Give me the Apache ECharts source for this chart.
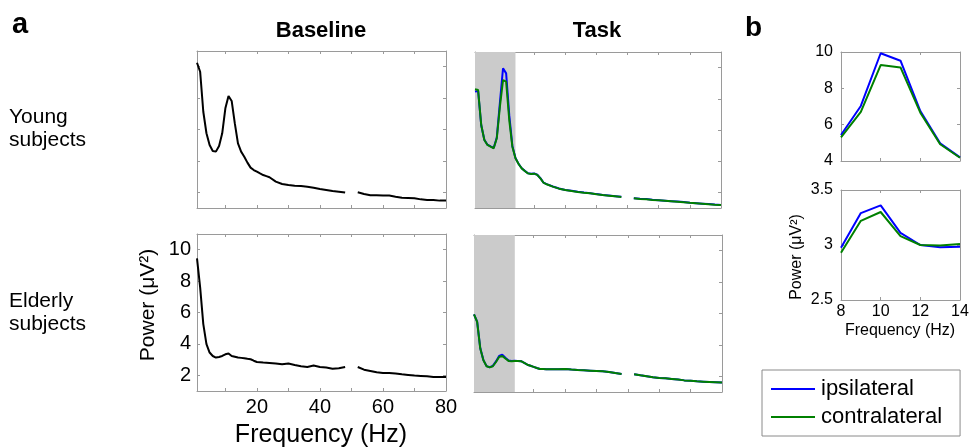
<!DOCTYPE html>
<html>
<head>
<meta charset="utf-8">
<script src="https://cdn.jsdelivr.net/npm/echarts@6/dist/echarts.min.js"></script>
<style>
  html, body { margin: 0; padding: 0; background: #fff; }
  #chart { width: 970px; height: 447px; }
</style>
</head>
<body>
<div id="chart"></div>
<script>
// frequency grid (Hz), 50 Hz removed (line noise)
const freqs = [1, 2, 3, 4, 5, 6, 7, 8, 9, 10, 11, 12, 13, 14, 15, 16, 17, 18, 19, 20, 21, 22, 23, 24,
  26, 28, 30, 32, 34, 36, 38, 40, 42, 44, 46, 48, 50, 52, 54, 56, 58, 60, 62, 64, 66, 68, 70, 72, 74, 76, 78, 80];

const youngBaseline = [10.25, 9.68, 7.13, 5.76, 5.01, 4.63, 4.59, 4.95, 5.76, 7.35, 8.13, 7.82, 6.39, 5.12, 4.59, 4.27, 3.89, 3.57, 3.42, 3.31, 3.20, 3.10, 3.03, 2.96,
  2.68, 2.53, 2.46, 2.42, 2.40, 2.36, 2.29, 2.21, 2.15, 2.08, 2.04, 1.98, null, 2.00, 1.89, 1.81, 1.81, 1.79, 1.79, 1.72, 1.66, 1.64, 1.62, 1.55, 1.51, 1.51, 1.47, 1.47];
const youngTaskIpsi = [8.46, 8.50, 6.30, 5.38, 5.06, 4.95, 4.85, 5.52, 7.75, 9.96, 9.63, 6.95, 4.98, 4.21, 3.83, 3.55, 3.38, 3.23, 3.19, 3.21, 3.13, 2.91, 2.63, 2.53,
  2.38, 2.25, 2.16, 2.10, 2.04, 1.99, 1.95, 1.89, 1.84, 1.80, 1.76, 1.72, null, 1.63, 1.59, 1.57, 1.53, 1.50, 1.47, 1.44, 1.41, 1.38, 1.34, 1.31, 1.28, 1.25, 1.22, 1.20];
const youngTaskContra = [8.61, 8.56, 6.32, 5.36, 5.04, 4.93, 4.83, 5.47, 7.49, 9.20, 9.10, 6.64, 4.93, 4.19, 3.82, 3.54, 3.37, 3.22, 3.18, 3.20, 3.12, 2.90, 2.62, 2.52,
  2.37, 2.24, 2.15, 2.09, 2.03, 1.98, 1.94, 1.88, 1.83, 1.79, 1.75, 1.71, null, 1.62, 1.58, 1.56, 1.52, 1.49, 1.46, 1.43, 1.40, 1.37, 1.33, 1.30, 1.27, 1.24, 1.21, 1.19];
const elderlyBaseline = [9.45, 7.60, 5.26, 3.98, 3.45, 3.23, 3.13, 3.17, 3.23, 3.34, 3.39, 3.23, 3.18, 3.13, 3.11, 3.09, 3.05, 3.02, 2.93, 2.85, 2.83, 2.81, 2.80, 2.79,
  2.75, 2.70, 2.75, 2.66, 2.58, 2.53, 2.62, 2.53, 2.49, 2.42, 2.45, 2.53, null, 2.53, 2.36, 2.28, 2.19, 2.15, 2.15, 2.11, 2.06, 2.02, 1.98, 1.96, 1.94, 1.89, 1.89, 1.89];
const elderlyTaskIpsi = [5.94, 5.48, 3.78, 3.03, 2.65, 2.58, 2.66, 2.95, 3.30, 3.38, 3.18, 3.00, 2.97, 2.99, 2.98, 2.96, 2.85, 2.74, 2.67, 2.60, 2.53, 2.47, 2.46, 2.45,
  2.45, 2.45, 2.47, 2.43, 2.40, 2.38, 2.36, 2.34, 2.32, 2.28, 2.21, 2.15, null, 2.13, 2.06, 2.00, 1.94, 1.89, 1.87, 1.83, 1.79, 1.74, 1.72, 1.68, 1.66, 1.64, 1.62, 1.60];
const elderlyTaskContra = [5.94, 5.47, 3.77, 3.02, 2.64, 2.57, 2.64, 2.91, 3.23, 3.30, 3.13, 2.98, 2.96, 2.98, 2.98, 2.96, 2.85, 2.74, 2.67, 2.60, 2.53, 2.47, 2.46, 2.45,
  2.45, 2.45, 2.47, 2.43, 2.40, 2.38, 2.36, 2.34, 2.32, 2.28, 2.21, 2.15, null, 2.13, 2.06, 2.00, 1.94, 1.89, 1.87, 1.83, 1.79, 1.74, 1.72, 1.68, 1.66, 1.64, 1.62, 1.60];

// panel b: alpha band 8-14 Hz
const bFreqs = [8, 9, 10, 11, 12, 13, 14];
const bYoungIpsi = [5.43, 7.03, 9.93, 9.52, 6.75, 4.97, 4.20];
const bYoungContra = [5.30, 6.70, 9.28, 9.15, 6.66, 4.92, 4.18];
const bElderlyIpsi = [2.975, 3.29, 3.36, 3.11, 3.00, 2.98, 2.985];
const bElderlyContra = [2.93, 3.22, 3.30, 3.08, 3.00, 2.995, 3.01];

// ticks / labels
const freqTicks = [10, 20, 30, 40, 50, 60, 70];
const freqLabels = [20, 40, 60, 80];
const powerTicks = [2, 4, 6, 8, 10];
const shadeBand = [1, 14];

const FONT = 'Liberation Sans, Arial, Helvetica, sans-serif';
const AX = '#9a9a9a';
const BLUE = '#0000ff';
const GREEN = '#008000';

function pairs(xs, ys) {
  return xs.map((x, i) => [x, ys[i] === null ? '-' : ys[i]]);
}

function axisPair(kind, gridIndex, cfg) {
  const positions = kind === 'x' ? ['bottom', 'top'] : ['left', 'right'];
  return positions.map((pos, k) => {
    const ax = {
      type: 'value', gridIndex: gridIndex, position: pos,
      min: cfg.min, max: cfg.max,
      axisLine: {show: true, onZero: false, lineStyle: {color: AX, width: 1}},
      axisTick: {show: true, inside: true, length: 3, lineStyle: {color: AX}},
      splitLine: {show: false},
      axisLabel: {
        show: k === 0 && !!cfg.showLabels, color: '#000', fontFamily: FONT,
        fontSize: cfg.fontSize || 20, margin: cfg.margin || 5
      }
    };
    if (cfg.interval) ax.interval = cfg.interval;
    if (cfg.ticks) ax.axisTick.customValues = cfg.ticks;
    if (cfg.labels) ax.axisLabel.customValues = cfg.labels;
    return ax;
  });
}

const grids = [
  {left: 197, top: 51, width: 249, height: 157},   // young baseline
  {left: 475, top: 52, width: 246, height: 156},   // young task
  {left: 197, top: 234, width: 249, height: 157},  // elderly baseline
  {left: 474, top: 235, width: 248, height: 157},  // elderly task
  {left: 841, top: 52, width: 119, height: 109},   // b young
  {left: 841, top: 190, width: 119, height: 110}   // b elderly
].map(g => Object.assign({show: false, outerBoundsMode: 'none'}, g));

const mainX = (show) => ({min: 1, max: 80, ticks: freqTicks, labels: freqLabels, showLabels: show, fontSize: 20, margin: 6});
const mainY = (show) => ({min: 1, max: 11, ticks: powerTicks, labels: powerTicks, showLabels: show, fontSize: 20, margin: 6});

const xAxis = [].concat(
  axisPair('x', 0, mainX(false)),
  axisPair('x', 1, mainX(false)),
  axisPair('x', 2, mainX(true)),
  axisPair('x', 3, mainX(false)),
  axisPair('x', 4, {min: 8, max: 14, interval: 2, showLabels: false}),
  axisPair('x', 5, {min: 8, max: 14, interval: 2, showLabels: true, fontSize: 16, margin: 4})
);
const yAxis = [].concat(
  axisPair('y', 0, mainY(false)),
  axisPair('y', 1, mainY(false)),
  axisPair('y', 2, mainY(true)),
  axisPair('y', 3, mainY(false)),
  axisPair('y', 4, {min: 4, max: 10, interval: 2, showLabels: true, fontSize: 16, margin: 8}),
  axisPair('y', 5, {min: 2.5, max: 3.5, interval: 0.5, showLabels: true, fontSize: 16, margin: 8})
);

function line(name, gi, xs, ys, color, extra) {
  return Object.assign({
    type: 'line', name: name, xAxisIndex: gi * 2, yAxisIndex: gi * 2,
    data: pairs(xs, ys), showSymbol: false, symbol: 'none', connectNulls: false,
    lineStyle: {color: color, width: 2}, itemStyle: {color: color},
    animation: false, silent: true
  }, extra || {});
}

const shade = {
  silent: true,
  itemStyle: {color: '#cbcbcb'},
  data: [[{xAxis: shadeBand[0]}, {xAxis: shadeBand[1]}]]
};

const series = [
  line('baseline', 0, freqs, youngBaseline, '#000'),
  line('ipsilateral', 1, freqs, youngTaskIpsi, BLUE, {markArea: shade}),
  line('contralateral', 1, freqs, youngTaskContra, GREEN),
  line('baseline', 2, freqs, elderlyBaseline, '#000'),
  line('ipsilateral', 3, freqs, elderlyTaskIpsi, BLUE, {markArea: shade}),
  line('contralateral', 3, freqs, elderlyTaskContra, GREEN),
  line('ipsilateral', 4, bFreqs, bYoungIpsi, BLUE),
  line('contralateral', 4, bFreqs, bYoungContra, GREEN),
  line('ipsilateral', 5, bFreqs, bElderlyIpsi, BLUE),
  line('contralateral', 5, bFreqs, bElderlyContra, GREEN)
];

function txt(x, y, text, size, extra) {
  return {
    type: 'text', x: x, y: y, silent: true,
    style: Object.assign({
      text: text, fill: '#000', font: size + 'px ' + FONT,
      textAlign: 'left', textVerticalAlign: 'middle'
    }, extra || {})
  };
}

const chart = echarts.init(document.getElementById('chart'));
chart.setOption({
  animation: false,
  grid: grids,
  xAxis: xAxis,
  yAxis: yAxis,
  series: series,
  legend: {
    data: ['ipsilateral', 'contralateral'],
    orient: 'vertical', left: 762, top: 370,
    padding: [8, 18, 8, 9], itemGap: 6,
    icon: 'rect', itemWidth: 44, itemHeight: 2,
    borderColor: '#8a8a8a', borderWidth: 1,
    textStyle: {fontFamily: FONT, fontSize: 22, color: '#000', padding: [0, 0, 0, 1]},
    selectedMode: false
  },
  graphic: [
    txt(12, 25, 'a', 29, {font: 'bold 29px ' + FONT}),
    txt(745, 28, 'b', 28, {font: 'bold 28px ' + FONT}),
    txt(321, 31, 'Baseline', 22, {font: 'bold 22px ' + FONT, textAlign: 'center'}),
    txt(597, 31, 'Task', 22, {font: 'bold 22px ' + FONT, textAlign: 'center'}),
    txt(9, 129, 'Young\nsubjects', 21, {lineHeight: 23}),
    txt(9, 313, 'Elderly\nsubjects', 21, {lineHeight: 23}),
    {
      type: 'text', x: 148, y: 305, rotation: Math.PI / 2, silent: true,
      style: {text: 'Power (μV²)', fill: '#000', font: '21px ' + FONT, textAlign: 'center', textVerticalAlign: 'middle'}
    },
    txt(321, 435, 'Frequency (Hz)', 25, {textAlign: 'center'}),
    {
      type: 'text', x: 797, y: 257, rotation: Math.PI / 2, silent: true,
      style: {text: 'Power (μV²)', fill: '#000', font: '16px ' + FONT, textAlign: 'center', textVerticalAlign: 'middle'}
    },
    txt(900, 331, 'Frequency (Hz)', 16, {textAlign: 'center'})
  ]
});
</script>
</body>
</html>
